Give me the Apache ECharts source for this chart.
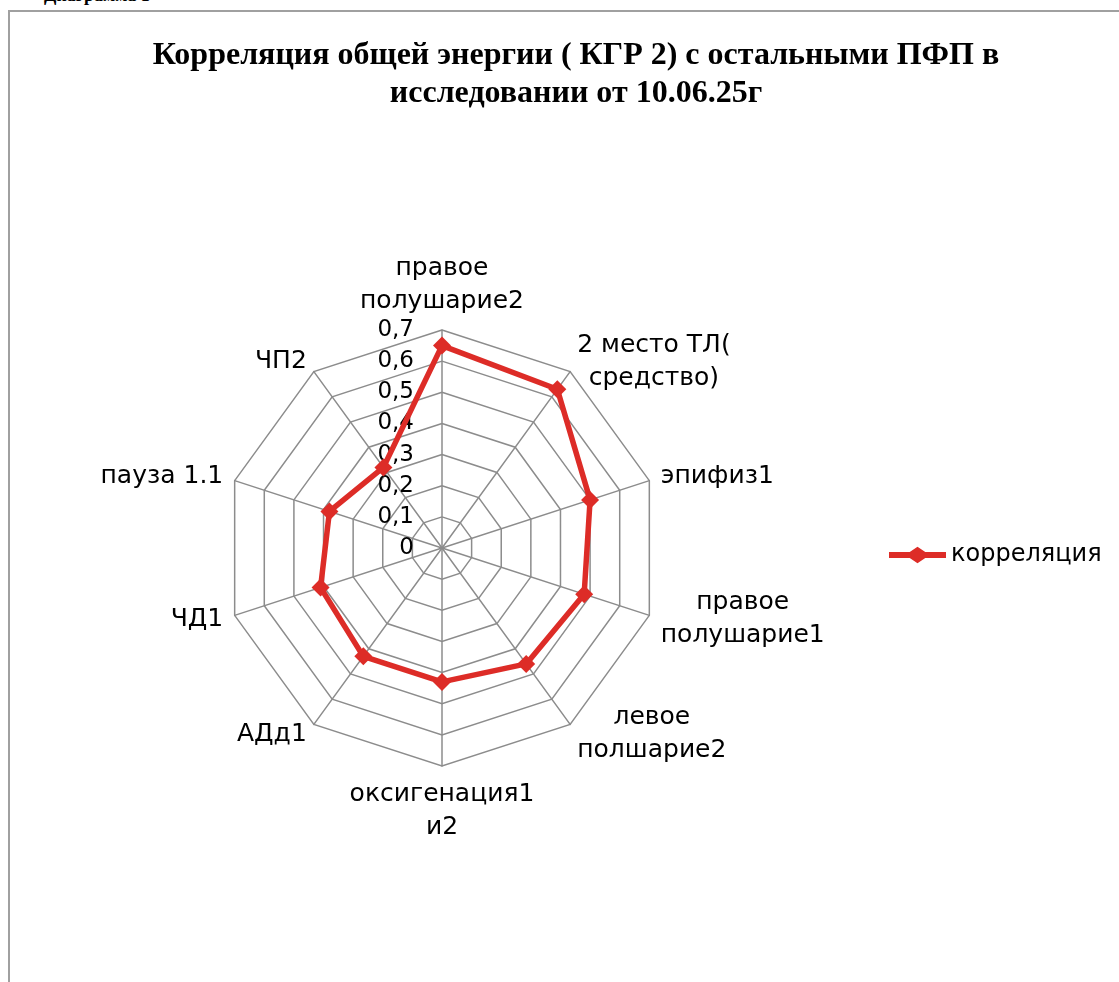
<!DOCTYPE html>
<html>
<head>
<meta charset="utf-8">
<script src="https://cdn.jsdelivr.net/npm/echarts@6/dist/echarts.min.js"></script>
<style>
  html, body { margin: 0; padding: 0; background: #fff; overflow: hidden; }
  #frame { position: absolute; left: 8px; top: 10px; width: 1200px; height: 1100px; border: 2px solid #a0a0a0; box-sizing: border-box; }
  #cap { position: absolute; left: 44px; top: -15px; font: bold 18px "Liberation Serif", serif; color: #000; }
  #chart { position: absolute; left: 0; top: 0; width: 1119px; height: 982px; }
</style>
</head>
<body>
<div id="cap">Диаграмма 1</div>
<div id="frame"></div>
<div id="chart"></div>
<script>
// Categories in clockwise order starting from the top
const categories = [
  'правое\nполушарие2',
  '2 место ТЛ(\nсредство)',
  'эпифиз1',
  'правое\nполушарие1',
  'левое\nполшарие2',
  'оксигенация1\nи2',
  'АДд1',
  'ЧД1',
  'пауза 1.1',
  'ЧП2'
];
const correlation = [0.65, 0.63, 0.50, 0.48, 0.46, 0.43, 0.43, 0.41, 0.38, 0.32];
const seriesName = 'корреляция';
const axisMax = 0.7;
const axisStep = 0.1;
const titleText = 'Корреляция общей энергии ( КГР 2) с остальными ПФП в\nисследовании от 10.06.25г';

// ECharts radar places indicators counter-clockwise; reorder for clockwise display
const order = [0].concat(categories.map((_, i) => i).slice(1).reverse());
const indicators = order.map(i => ({ name: categories[i], max: axisMax, min: 0 }));
const values = order.map(i => correlation[i]);

const center = [442, 548];
const radius = 218;
const font = '"DejaVu Sans", sans-serif';
const red = '#dd2c27';

const chart = echarts.init(document.getElementById('chart'));
chart.setOption({
  animation: false,
  title: {
    text: titleText,
    left: 571,
    top: 32,
    textAlign: 'center',
    textStyle: { fontFamily: '"Liberation Serif", serif', fontWeight: 'bold', fontSize: 32, lineHeight: 38, color: '#000' }
  },
  legend: {
    data: [{ name: seriesName, icon: 'path://M0,5 L20,5 L27.5,0 L35,5 L55,5 L55,11 L35,11 L27.5,16 L20,11 L0,11 Z' }],
    left: 884,
    top: 538,
    itemWidth: 57,
    itemHeight: 17,
    itemGap: 5,
    itemStyle: { color: red },
    textStyle: { fontFamily: font, fontSize: 24, color: '#000', padding: [0, 0, 0, 0] }
  },
  radar: {
    center: center,
    radius: radius,
    startAngle: 90,
    shape: 'polygon',
    splitNumber: 7,
    indicator: indicators,
    axisName: {
      color: '#000', fontFamily: font, fontSize: 25, lineHeight: 33,
      formatter: name => name.split('\n').map(s => '{c|' + s + '}').join('\n'),
      rich: { c: { align: 'center', fontFamily: font, fontSize: 25, lineHeight: 33, color: '#000' } }
    },
    nameGap: 12,
    splitLine: { lineStyle: { color: '#8c8c8c', width: 1.5 } },
    splitArea: { show: false },
    axisLine: { lineStyle: { color: '#8c8c8c', width: 1.5 } },
    axisTick: { show: false },
    axisLabel: { show: false }
  },
  polar: { center: center, radius: radius },
  angleAxis: { type: 'value', startAngle: 90, show: false, min: 0, max: 360 },
  radiusAxis: {
    type: 'value', min: 0, max: axisMax, interval: axisStep,
    axisLine: { show: false }, axisTick: { show: false }, splitLine: { show: false },
    axisLabel: {
      show: true, color: '#000', fontFamily: font, fontSize: 23, margin: 28,
      formatter: v => v === 0 ? '0' : v.toFixed(1).replace('.', ',')
    }
  },
  series: [{
    name: seriesName,
    type: 'radar',
    symbol: 'diamond',
    symbolSize: 18,
    itemStyle: { color: red },
    lineStyle: { color: red, width: 5.5 },
    data: [{ value: values, name: seriesName }]
  }]
});
</script>
</body>
</html>
